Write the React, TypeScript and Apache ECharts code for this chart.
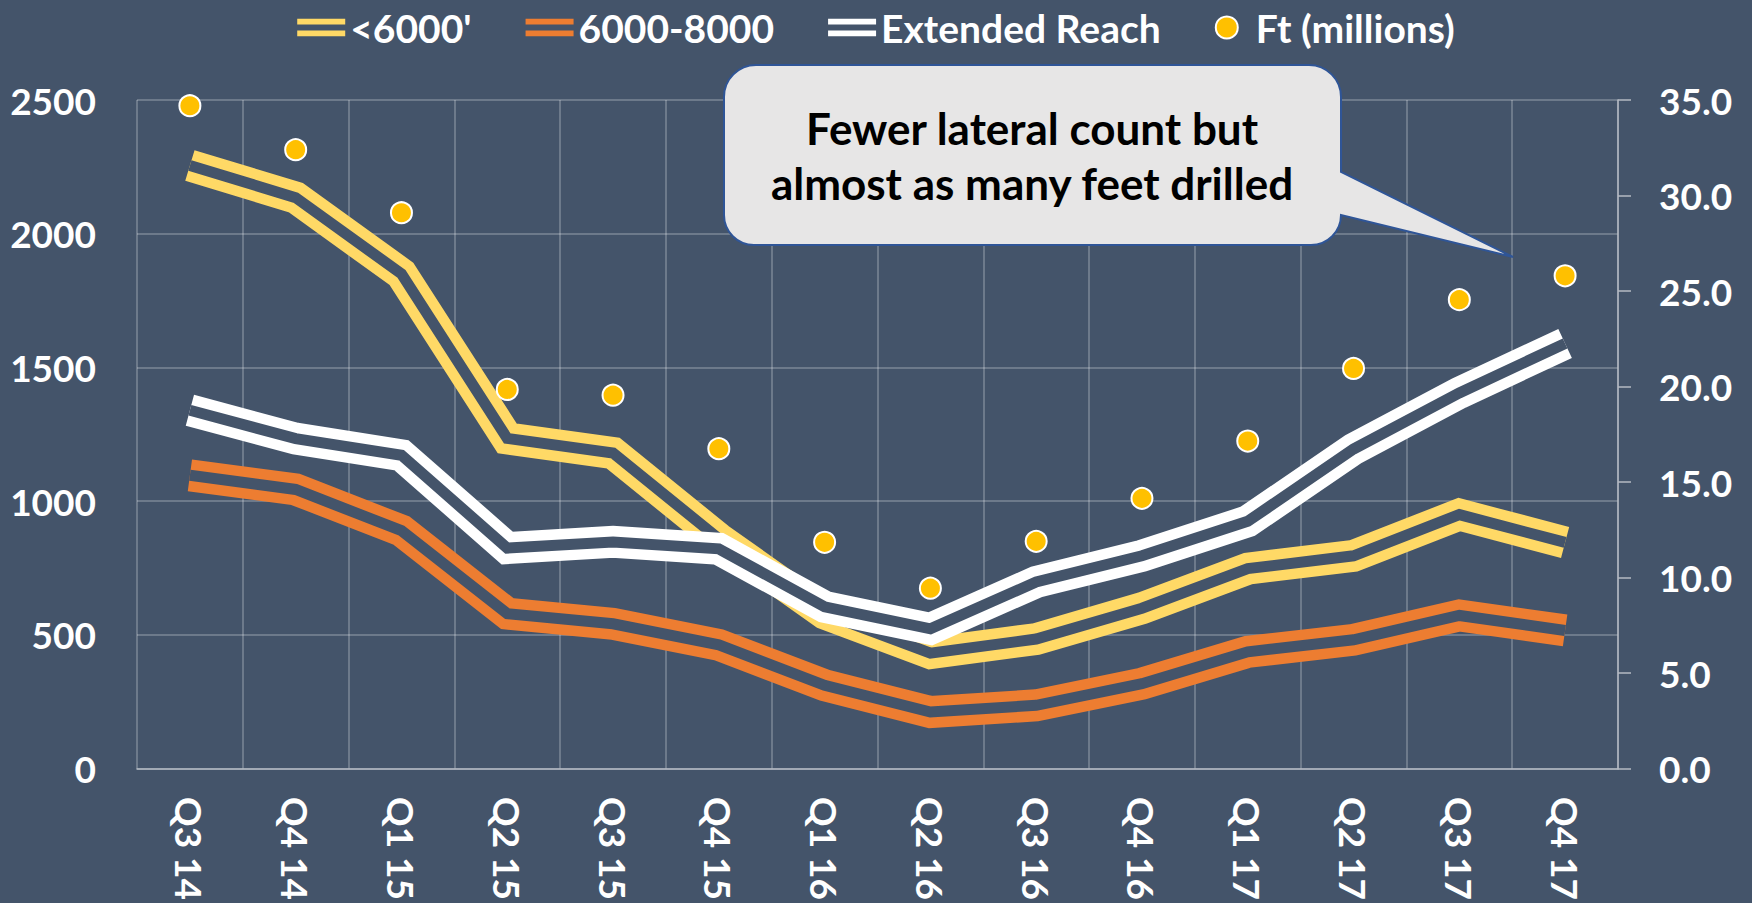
import React, { useEffect, useRef } from "react";
import * as echarts from "echarts";

const categories = ["Q3 14", "Q4 14", "Q1 15", "Q2 15", "Q3 15", "Q4 15", "Q1 16", "Q2 16", "Q3 16", "Q4 16", "Q1 17", "Q2 17", "Q3 17", "Q4 17"];
const under6000 = [2255, 2135, 1850, 1235, 1180, 860, 580, 432, 485, 600, 748, 796, 950, 846];
const mid6000to8000 = [1097, 1044, 890, 580, 542, 463, 312, 212, 237, 318, 437, 482, 573, 517];
const extendedReach = [1340, 1234, 1172, 825, 848, 822, 605, 523, 698, 796, 925, 1195, 1405, 1590];
const ftMillions = [34.7, 32.4, 29.1, 19.85, 19.55, 16.75, 11.85, 9.45, 11.9, 14.15, 17.15, 20.95, 24.55, 25.8];
const seriesNames = ["<6000'", "6000-8000", "Extended Reach", "Ft (millions)"];
const calloutLines = ["Fewer lateral count but", "almost as many feet drilled"];

const BG = "#44546A";
const FONT = "Lato, 'Noto Sans', sans-serif";
const GRID = "rgba(255,255,255,0.3)";
const AXIS = "#B4BAC3";

const DBL_ICON = "path://M0,0L0,0M0,2.3H48V8H0ZM0,14H48V19.7H0ZM48,22L48,22";

const CALLOUT_D =
  "M756,65 H1309 A32,32 0 0 1 1341,97 V172 L1513,257 L1341,215 A30,30 0 0 1 1311,245 H754 A30,30 0 0 1 724,215 V97 A32,32 0 0 1 756,65 Z";

let registered = false;
function ensureShape() {
  if (registered) return;
  echarts.graphic.registerShape("callout", echarts.graphic.extendPath(CALLOUT_D, {}) as any);
  registered = true;
}

function doubleLine(name: string, data: number[], color: string) {
  return [
    {
      name,
      type: "line",
      data,
      symbol: "none",
      lineStyle: { color, width: 32, join: "miter", miterLimit: 10, cap: "butt" },
      itemStyle: { color },
      emphasis: { disabled: true },
    },
    {
      name: name + " gap",
      type: "line",
      data,
      symbol: "none",
      silent: true,
      lineStyle: { color: BG, width: 11, join: "miter", miterLimit: 10, cap: "butt" },
      itemStyle: { color: BG },
      emphasis: { disabled: true },
    },
  ];
}

export default function App() {
  const ref = useRef<HTMLDivElement>(null);
  useEffect(() => {
    document.body.style.margin = "0";
    ensureShape();
    const chart = echarts.init(ref.current!, undefined, { renderer: "svg" });
    const labelStyle = { color: "#fff", fontSize: 37, fontWeight: "bold" as const, fontFamily: FONT };
    chart.setOption({
      animation: false,
      backgroundColor: BG,
      textStyle: { fontFamily: FONT },
      legend: {
        top: 3,
        left: "center",
        itemWidth: 48,
        itemHeight: 22,
        itemGap: 54,
        selectedMode: false,
        textStyle: { ...labelStyle, fontSize: 39 },
        data: [
          { name: seriesNames[0], icon: DBL_ICON, itemStyle: { borderWidth: 0 } },
          { name: seriesNames[1], icon: DBL_ICON, itemStyle: { borderWidth: 0 } },
          { name: seriesNames[2], icon: DBL_ICON, itemStyle: { borderWidth: 0 } },
          { name: seriesNames[3], icon: "circle", itemStyle: { color: "#FFC000", opacity: 1, borderColor: "#fff", borderWidth: 2 } },
        ],
      },
      grid: { left: 137, right: 134, top: 100, bottom: 133, containLabel: false },
      xAxis: {
        type: "category",
        data: categories,
        boundaryGap: true,
        axisLine: { show: true, lineStyle: { color: AXIS, width: 1.5 } },
        axisTick: { show: false },
        axisLabel: { ...labelStyle, rotate: -90, margin: 28, interval: 0 },
        splitLine: { show: true, interval: 0, lineStyle: { color: GRID, width: 1.5 } },
      },
      yAxis: [
        {
          type: "value",
          min: 0,
          max: 2500,
          interval: 500,
          axisLine: { show: false },
          axisTick: { show: false },
          axisLabel: { ...labelStyle, margin: 41, formatter: (v: number) => String(v) },
          splitLine: { show: true, lineStyle: { color: GRID, width: 1.5 } },
        },
        {
          type: "value",
          position: "right",
          min: 0,
          max: 35,
          interval: 5,
          axisLine: { show: true, lineStyle: { color: AXIS, width: 1.5 } },
          axisTick: { show: true, length: 13, lineStyle: { color: AXIS, width: 1.5 } },
          axisLabel: { ...labelStyle, margin: 41, formatter: (v: number) => v.toFixed(1) },
          splitLine: { show: false },
        },
      ],
      series: [
        ...doubleLine(seriesNames[0], under6000, "#FFD966"),
        ...doubleLine(seriesNames[1], mid6000to8000, "#ED7D31"),
        ...doubleLine(seriesNames[2], extendedReach, "#FFFFFF"),
        {
          name: seriesNames[3],
          type: "scatter",
          yAxisIndex: 1,
          data: ftMillions,
          symbol: "circle",
          symbolSize: 21,
          itemStyle: { color: "#FFC000", opacity: 1, borderColor: "#fff", borderWidth: 2 },
          emphasis: { disabled: true },
          z: 5,
        },
      ],
      graphic: [
        {
          type: "callout",
          x: 0,
          y: 0,
          z: 100,
          style: { fill: "#E7E6E6", stroke: "#2F5597", lineWidth: 2 },
        },
        {
          type: "text",
          x: 1032,
          y: 155,
          z: 101,
          style: {
            text: calloutLines.join("\n"),
            fill: "#000",
            font: "bold 44px " + FONT,
            align: "center",
            verticalAlign: "middle",
            lineHeight: 55,
          },
        },
      ],
    });
    return () => chart.dispose();
  }, []);
  return <div ref={ref} style={{ width: 1752, height: 903 }} />;
}
